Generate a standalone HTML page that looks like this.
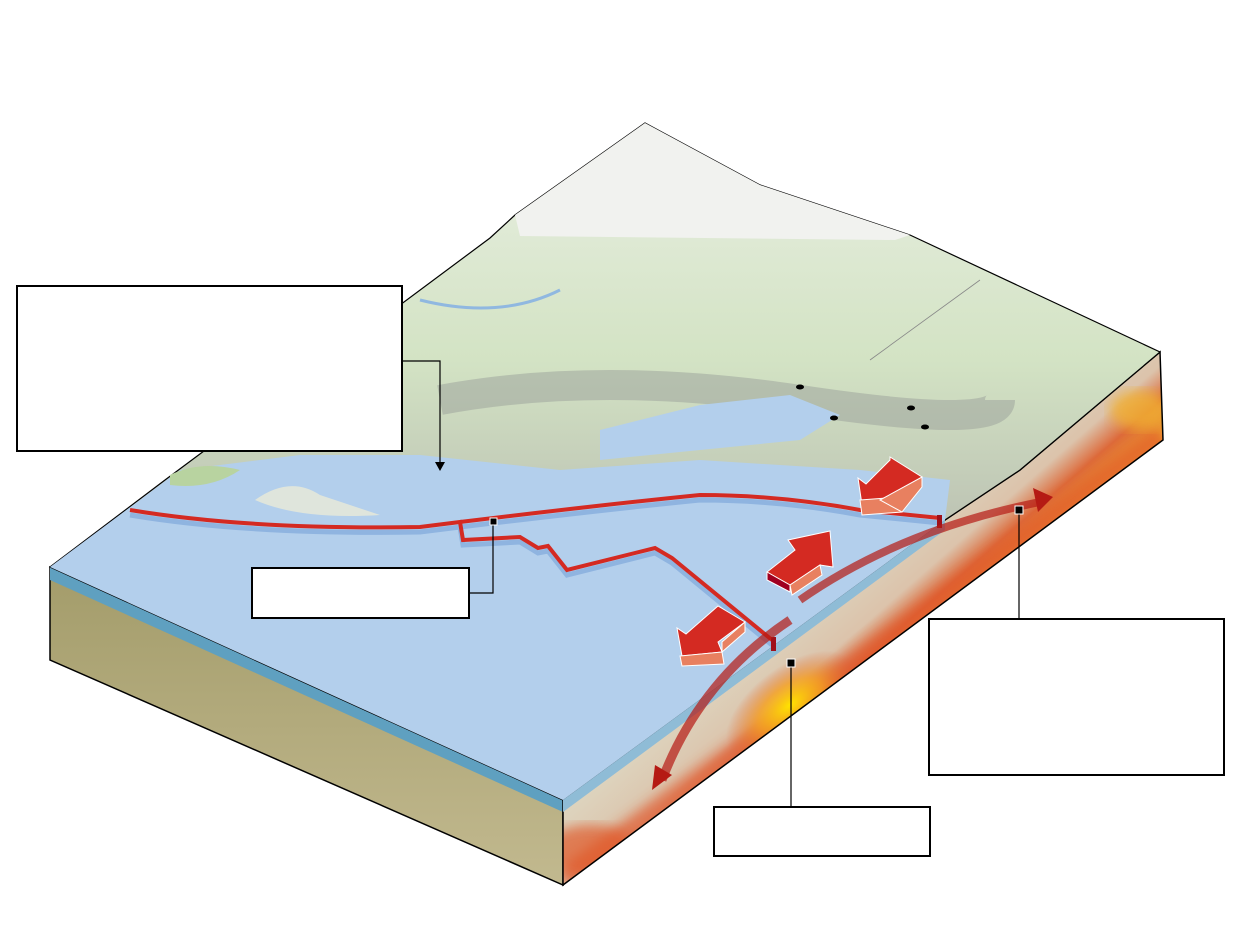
<!DOCTYPE html>
<html><head><meta charset="utf-8"><style>html,body{margin:0;padding:0;background:#fff}svg{display:block}</style></head>
<body>
<svg width="1240" height="952" viewBox="0 0 1240 952" xmlns="http://www.w3.org/2000/svg">
<defs>
<linearGradient id="front" x1="0" y1="0" x2="0" y2="1"><stop offset="0" stop-color="#a39c6a"/><stop offset="1" stop-color="#c2b98f"/></linearGradient>
<linearGradient id="land" x1="0" y1="0" x2="0" y2="1"><stop offset="0" stop-color="#e9efe3"/><stop offset="0.35" stop-color="#d3e3c4"/><stop offset="0.6" stop-color="#bcc2b3"/><stop offset="1" stop-color="#c8d9b8"/></linearGradient>
<linearGradient id="side" gradientUnits="userSpaceOnUse" x1="800" y1="610" x2="870" y2="690"><stop offset="0" stop-color="#ddd3bd"/><stop offset="0.5" stop-color="#dcc3ab"/><stop offset="0.75" stop-color="#dd6a3a"/><stop offset="1" stop-color="#eea030"/></linearGradient>
<radialGradient id="hot" cx="0.5" cy="0.5" r="0.5"><stop offset="0" stop-color="#ffe400"/><stop offset="0.5" stop-color="#f5a020" stop-opacity="0.8"/><stop offset="1" stop-color="#e06030" stop-opacity="0"/></radialGradient>
<filter id="bl"><feGaussianBlur stdDeviation="6"/></filter>
<filter id="bl2"><feGaussianBlur stdDeviation="3"/></filter>
<clipPath id="sc"><polygon points="563,800 945,520 1020,470 1160,352 1163,440 563,885"/></clipPath>
</defs>
<!-- front face -->
<polygon points="50,567 563,800 563,885 50,660" fill="url(#front)" stroke="#000" stroke-width="1.5"/>
<polygon points="50,567 563,800 563,812 50,580" fill="#5fa0c0"/>
<!-- right side face -->
<polygon points="563,800 945,520 1020,470 1160,352 1163,440 563,885" fill="url(#side)"/>
<g clip-path="url(#sc)">
<line x1="563" y1="880" x2="1163" y2="436" stroke="#e0562a" stroke-width="22" opacity="0.7" filter="url(#bl)"/>
<ellipse cx="790" cy="705" rx="75" ry="38" fill="url(#hot)" transform="rotate(-37 790 705)"/>
<ellipse cx="590" cy="850" rx="45" ry="25" fill="#e05a2a" opacity="0.7" filter="url(#bl)"/>
<ellipse cx="1140" cy="410" rx="30" ry="20" fill="#f0b030" opacity="0.8" filter="url(#bl)"/>
</g>
<polygon points="563,800 945,520 1020,470 1160,352 1163,440 563,885" fill="none" stroke="#000" stroke-width="1.5"/>
<!-- land top -->
<polygon points="50,567 165,480 490,238 515,215 645,123 760,185 910,235 1160,352 1020,470 945,520 563,800" fill="url(#land)" stroke="#000" stroke-width="1.2"/>
<polygon points="515,215 645,123 760,185 910,235 895,240 520,236" fill="#f1f2ef"/>
<path d="M440,400 Q600,370 800,400 T1000,400" stroke="#9aa09a" stroke-width="30" fill="none" opacity="0.5"/>
<path d="M420,300 Q500,320 560,290" stroke="#90b8e0" stroke-width="3" fill="none"/>
<!-- ocean -->
<polygon points="50,567 180,470 300,455 420,455 560,470 700,460 860,470 950,480 945,520 563,800" fill="#b3cfec"/>
<polygon points="600,430 700,405 790,395 840,415 800,440 700,450 600,460" fill="#b3cfec"/>
<polygon points="563,800 945,520 945,530 563,812" fill="#8fbcd6"/>
<path d="M255,500 Q290,475 320,495 Q350,505 380,515 Q300,520 255,500Z" fill="#dfe5dc"/>
<path d="M170,475 Q200,460 240,470 Q210,490 170,485Z" fill="#b8d3a0"/>
<!-- plate boundaries -->
<g stroke="#8fb4e0" stroke-width="5" fill="none" transform="translate(0,5)">
<path d="M130,510 Q250,530 420,527 L460,522 L463,540 L520,537 L538,548 L548,546 L567,570 L655,548 L672,558 L772,640"/>
<path d="M460,522 Q600,505 700,495 Q780,495 860,510 L940,518"/>
</g>
<path d="M130,510 Q250,530 420,527 L460,522 L463,540 L520,537 L538,548 L548,546 L567,570 L655,548 L672,558 L772,640" stroke="#d42a22" stroke-width="4" fill="none"/>
<path d="M460,522 Q600,505 700,495 Q780,495 860,510 L940,518" stroke="#d42a22" stroke-width="4" fill="none"/>
<rect x="771" y="637" width="5" height="14" fill="#a0101a"/>
<rect x="937" y="515" width="5" height="13" fill="#a0101a"/>
<!-- 3D arrows -->
<g stroke="#fff" stroke-width="1">
<polygon points="890,457 922,477 888,500 862,505 858,478 866,484 890,460" fill="#d42a22"/>
<polygon points="860,500 900,497 902,512 862,515" fill="#e88060"/>
<polygon points="880,500 922,477 922,487 902,512" fill="#e88060"/>
<polygon points="830,531 833,567 820,565 790,585 767,572 795,550 788,540" fill="#d42a22"/>
<polygon points="767,572 790,585 790,592 767,580" fill="#a00020"/>
<polygon points="790,585 820,565 822,575 792,595" fill="#e88060"/>
<polygon points="718,606 745,622 718,642 722,652 682,656 677,628 686,634" fill="#d42a22"/>
<polygon points="680,656 722,652 724,664 682,666" fill="#e88060"/>
<polygon points="722,642 745,622 745,632 722,652" fill="#e88060"/>
</g>
<!-- curved arrows on side -->
<path d="M662,780 Q700,680 790,620" stroke="#b51a14" stroke-width="9" fill="none" opacity="0.7"/>
<path d="M800,600 Q900,530 1040,502" stroke="#b51a14" stroke-width="8" fill="none" opacity="0.7"/>
<polygon points="652,790 655,765 672,775" fill="#b51a14"/>
<polygon points="1053,497 1033,488 1038,512" fill="#b51a14"/>
<!-- cities -->
<g fill="#000"><ellipse cx="800" cy="387" rx="4" ry="2.5"/><ellipse cx="834" cy="418" rx="4" ry="2.5"/><ellipse cx="911" cy="408" rx="4" ry="2.5"/><ellipse cx="925" cy="427" rx="4" ry="2.5"/></g>
<line x1="980" y1="280" x2="870" y2="360" stroke="#888" stroke-width="0.8"/>
<!-- callouts -->
<g fill="none" stroke="#000" stroke-width="1.2">
<polyline points="402,361 440,361 440,462"/>
<polyline points="469,593 493,593 493,521"/>
<line x1="1019" y1="619" x2="1019" y2="510"/>
<line x1="791" y1="807" x2="791" y2="663"/>
</g>
<polygon points="435,462 445,462 440,471" fill="#000"/>
<g fill="#000" stroke="#fff" stroke-width="1"><rect x="490" y="518" width="7" height="7"/><rect x="1015" y="506" width="8" height="8"/><rect x="787" y="659" width="8" height="8"/></g>
<g fill="#fff" stroke="#000" stroke-width="2">
<rect x="17" y="286" width="385" height="165"/>
<rect x="252" y="568" width="217" height="50"/>
<rect x="929" y="619" width="295" height="156"/>
<rect x="714" y="807" width="216" height="49"/>
</g>
</svg>
</body></html>
